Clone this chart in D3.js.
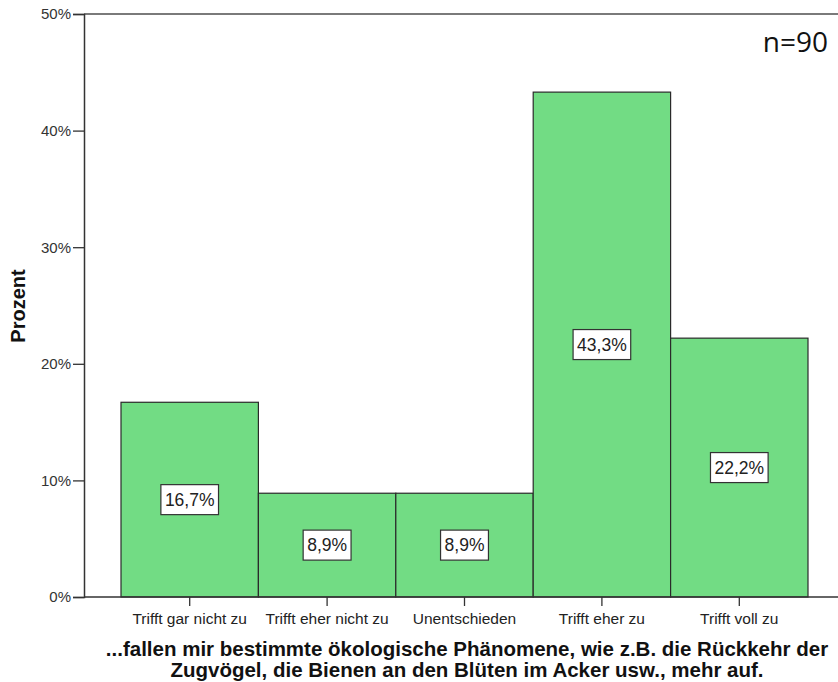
<!DOCTYPE html>
<html><head><meta charset="utf-8">
<script src="https://cdn.jsdelivr.net/npm/d3@7"></script>
<style>body{margin:0;background:#fff}svg{display:block}</style>
</head><body>
<script>
const categories = ["Trifft gar nicht zu","Trifft eher nicht zu","Unentschieden","Trifft eher zu","Trifft voll zu"];
const values = [16.7, 8.9, 8.9, 43.3, 22.2];
const valueLabels = ["16,7%","8,9%","8,9%","43,3%","22,2%"];
const yTicks = [0,10,20,30,40,50];
const yTickLabels = ["0%","10%","20%","30%","40%","50%"];
const titleLines = ["...fallen mir bestimmte ökologische Phänomene, wie z.B. die Rückkehr der","Zugvögel, die Bienen an den Blüten im Acker usw., mehr auf."];
const yAxisTitle = "Prozent";
const note = "n=90";

const W = 838, H = 682;
const svg = d3.select("body").append("svg").attr("width", W).attr("height", H);
const plot = {left: 84, right: 838, top: 14, bottom: 597};

const y = d3.scaleLinear().domain([0,50]).range([plot.bottom, plot.top]);
const x = d3.scaleBand().domain(categories).range([121, 808]).padding(0);

// bars
svg.selectAll("rect.bar").data(values).join("rect")
  .attr("class","bar")
  .attr("x",(d,i)=>x(categories[i]))
  .attr("width",x.bandwidth())
  .attr("y",d=>y(d))
  .attr("height",d=>y(0)-y(d))
  .attr("fill","#72dc84")
  .attr("stroke","#2a2a2a")
  .attr("stroke-width",1.2);

// frame lines
svg.append("line").attr("x1",plot.left).attr("x2",plot.right).attr("y1",plot.top).attr("y2",plot.top)
  .attr("stroke","#7a7a7a").attr("stroke-width",2);
svg.append("line").attr("x1",plot.left).attr("x2",plot.right).attr("y1",plot.bottom).attr("y2",plot.bottom)
  .attr("stroke","#333").attr("stroke-width",1.5);

// y axis
const yAxis = d3.axisLeft(y).tickValues(yTicks).tickFormat((d,i)=>yTickLabels[i]).tickSize(11).tickPadding(2);
const gy = svg.append("g").attr("transform",`translate(${plot.left},0)`).call(yAxis);
gy.select(".domain").attr("stroke","#333").attr("stroke-width",1.5);
gy.selectAll(".tick line").attr("stroke","#333").attr("stroke-width",1.3);
gy.selectAll(".tick text").attr("font-family","'Liberation Sans', Arial, sans-serif").attr("font-size",15).attr("fill","#333");

// x axis
const xAxis = d3.axisBottom(x).tickSize(9).tickPadding(7);
const gx = svg.append("g").attr("transform",`translate(0,${plot.bottom})`).call(xAxis);
gx.select(".domain").remove();
gx.selectAll(".tick line").attr("stroke","#333").attr("stroke-width",1.3);
gx.selectAll(".tick text").attr("font-family","'Liberation Sans', Arial, sans-serif").attr("font-size",15.5).attr("fill","#222");

// value labels
const lg = svg.selectAll("g.vl").data(values).join("g").attr("class","vl")
  .attr("transform",(d,i)=>`translate(${x(categories[i])+x.bandwidth()/2},${(y(d)+y(0))/2})`);
lg.append("text").text((d,i)=>valueLabels[i])
  .attr("font-family","'Liberation Sans', Arial, sans-serif").attr("font-size",17.5)
  .attr("fill","#222").attr("text-anchor","middle").attr("dy","0.36em");
lg.each(function(){
  const g = d3.select(this); const t = g.select("text").node().getBBox();
  g.insert("rect","text").attr("x",-t.width/2-4).attr("y",-15).attr("width",t.width+8).attr("height",30)
   .attr("fill","#fff").attr("stroke","#333").attr("stroke-width",1.2);
});

// y axis title
svg.append("text").text(yAxisTitle)
  .attr("transform","translate(25,306) rotate(-90)")
  .attr("text-anchor","middle").attr("font-family","'Liberation Sans', Arial, sans-serif")
  .attr("font-weight","bold").attr("font-size",20).attr("fill","#111");

// n note
svg.append("text").text(note).attr("x",828).attr("y",52).attr("text-anchor","end")
  .attr("font-family","'Open Sans', 'Noto Sans', sans-serif").attr("font-size",28).attr("fill","#111");

// title
svg.selectAll("text.title").data(titleLines).join("text").attr("class","title")
  .text(d=>d).attr("x",467).attr("y",(d,i)=>656+i*21).attr("text-anchor","middle")
  .attr("font-family","'Liberation Sans', Arial, sans-serif").attr("font-weight","bold")
  .attr("font-size",20.5).attr("fill","#111");
</script>
</body></html>
